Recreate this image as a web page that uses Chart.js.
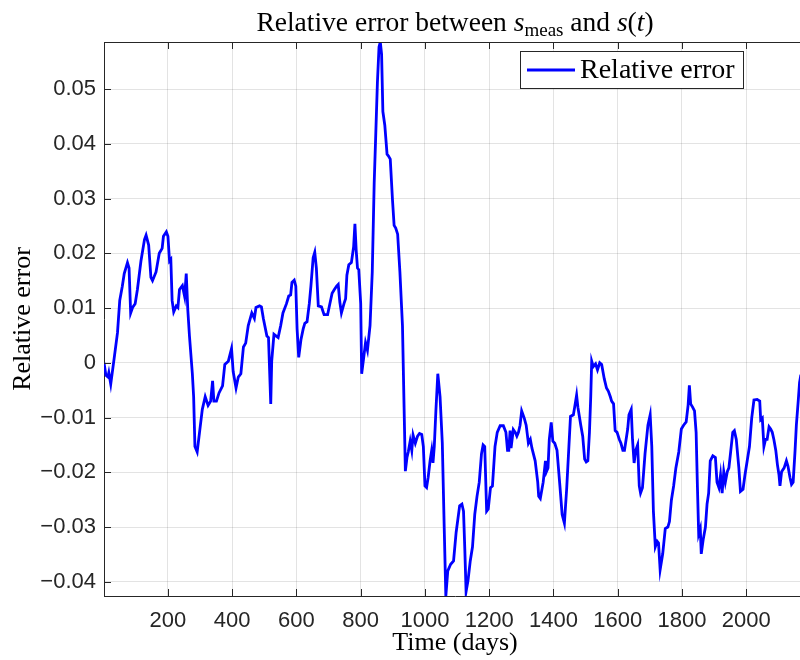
<!DOCTYPE html>
<html>
<head>
<meta charset="utf-8">
<script src="https://cdn.jsdelivr.net/npm/chart.js@4.4.1/dist/chart.umd.min.js"></script>
<style>
html, body { margin: 0; padding: 0; overflow: hidden; background: #fff; }
#wrap { width: 806px; height: 660px; }
</style>
</head>
<body>
<div id="wrap"><canvas id="errCanvas" width="806" height="660"></canvas></div>
<script>
// time axis (days) and relative error
const days = [
    1, 7, 13, 16, 22, 33, 43, 50, 58, 64, 74, 79, 84, 90, 98, 105, 116, 127, 132, 140,
    147, 152, 163, 173, 182, 186, 195, 200, 205, 209, 213, 218, 226, 231, 236, 245, 252, 257, 262, 267,
    276, 280, 284, 291, 299, 307, 316, 325, 333, 339, 343, 351, 359, 370, 377, 388, 398, 403, 412, 419,
    427, 435, 442, 450, 461, 469, 474, 485, 491, 497, 508, 513, 520, 523, 530, 543, 551, 558, 569, 576,
    582, 586, 593, 598, 602, 607, 614, 621, 626, 633, 640, 645, 652, 657, 662, 668, 678, 686, 697, 704,
    711, 718, 725, 730, 735, 740, 748, 753, 757, 763, 771, 778, 782, 786, 790, 794, 800, 803, 808, 815,
    821, 829, 836, 842, 847, 852, 857, 861, 865, 869, 875, 882, 886, 892, 899, 904, 909, 915, 922, 930,
    935, 939, 944, 948, 954, 959, 963, 970, 977, 983, 990, 995, 1000, 1005, 1010, 1016, 1021, 1025, 1029, 1034,
    1040, 1047, 1054, 1060, 1065, 1071, 1080, 1089, 1097, 1108, 1115, 1120, 1124, 1128, 1134, 1141, 1148, 1155, 1162, 1169,
    1176, 1181, 1186, 1192, 1197, 1204, 1210, 1218, 1225, 1234, 1244, 1252, 1257, 1261, 1265, 1268, 1275, 1281, 1286, 1291,
    1296, 1301, 1309, 1315, 1322, 1328, 1333, 1343, 1351, 1354, 1359, 1368, 1375, 1378, 1383, 1387, 1393, 1398, 1404, 1411,
    1420, 1427, 1434, 1441, 1448, 1453, 1462, 1466, 1472, 1476, 1485, 1491, 1497, 1502, 1507, 1512, 1516, 1519, 1524, 1531,
    1537, 1544, 1550, 1558, 1565, 1571, 1577, 1581, 1587, 1592, 1598, 1605, 1610, 1616, 1621, 1631, 1635, 1642, 1646, 1651,
    1656, 1662, 1667, 1671, 1677, 1685, 1694, 1701, 1706, 1711, 1717, 1723, 1727, 1732, 1740, 1748, 1756, 1761, 1767, 1774,
    1781, 1790, 1798, 1805, 1813, 1819, 1823, 1827, 1833, 1839, 1844, 1848, 1852, 1857, 1860, 1866, 1873, 1878, 1883, 1888,
    1896, 1904, 1909, 1915, 1920, 1925, 1930, 1935, 1941, 1946, 1952, 1958, 1963, 1969, 1977, 1982, 1990, 1996, 2003, 2010,
    2017, 2024, 2034, 2042, 2045, 2050, 2055, 2060, 2065, 2071, 2076, 2081, 2086, 2092, 2097, 2102, 2105, 2110, 2118, 2125,
    2130, 2136, 2141, 2146, 2152, 2156, 2162, 2166, 2170
];

const relativeError = [
    0, -0.0023, -0.0026, -0.0018, -0.0039, 0.001, 0.0055, 0.0114, 0.014, 0.0163, 0.0183, 0.0173, 0.0091, 0.0101, 0.0108, 0.0134, 0.0186, 0.0225, 0.0233, 0.0215,
    0.0156, 0.015, 0.0166, 0.02, 0.0209, 0.0231, 0.0239, 0.0231, 0.0186, 0.0189, 0.0114, 0.0093, 0.0104, 0.0101, 0.0134, 0.0141, 0.0121, 0.0163, 0.0095, 0.0049,
    -0.002, -0.0062, -0.0153, -0.0163, -0.0124, -0.0085, -0.0062, -0.0078, -0.007, -0.0033, -0.007, -0.007, -0.0055, -0.0042, -0.0003, 0.0003, 0.0026, -0.0016, -0.0046, -0.0026,
    -0.002, 0.0029, 0.0036, 0.0068, 0.0091, 0.0081, 0.0101, 0.0104, 0.0102, 0.0081, 0.0049, 0.0046, -0.0075, 0.0003, 0.0052, 0.0046, 0.0068, 0.0091, 0.0108, 0.0122,
    0.0124, 0.0147, 0.0151, 0.014, 0.0062, 0.001, 0.0042, 0.0062, 0.0072, 0.0075, 0.0108, 0.014, 0.0192, 0.0202, 0.0173, 0.0104, 0.0102, 0.0088, 0.0088, 0.0108,
    0.0127, 0.0134, 0.014, 0.0143, 0.0111, 0.0091, 0.0108, 0.0117, 0.016, 0.0179, 0.0183, 0.0212, 0.0254, 0.0205, 0.0173, 0.017, 0.0108, -0.002, 0.0003, 0.0037,
    0.0023, 0.0068, 0.0166, 0.0329, 0.042, 0.0512, 0.0577, 0.0586, 0.0564, 0.0459, 0.0434, 0.0381, 0.0378, 0.0372, 0.0297, 0.0251, 0.0246, 0.0235, 0.0166, 0.0068,
    -0.0081, -0.0198, -0.0173, -0.0163, -0.0143, -0.016, -0.0132, -0.0147, -0.0134, -0.0129, -0.0131, -0.0153, -0.0225, -0.0228, -0.0209, -0.0179, -0.016, -0.0183, -0.0153, -0.0088,
    -0.002, -0.0062, -0.0147, -0.0303, -0.0426, -0.038, -0.0368, -0.0362, -0.031, -0.0261, -0.0258, -0.0271, -0.034, -0.0418, -0.0398, -0.0362, -0.0336, -0.0277, -0.0244, -0.0218,
    -0.0166, -0.015, -0.0153, -0.0271, -0.0267, -0.0228, -0.0225, -0.0153, -0.0127, -0.0115, -0.0115, -0.0127, -0.016, -0.016, -0.0124, -0.0156, -0.0122, -0.0127, -0.0134, -0.0127,
    -0.0114, -0.0088, -0.0101, -0.0114, -0.0147, -0.014, -0.0156, -0.0179, -0.0218, -0.0244, -0.0248, -0.0218, -0.0179, -0.0199, -0.0192, -0.014, -0.0109, -0.0143, -0.0147, -0.016,
    -0.0225, -0.0277, -0.0293, -0.0231, -0.0153, -0.0098, -0.0095, -0.0081, -0.0059, -0.0081, -0.0114, -0.0134, -0.0176, -0.0181, -0.0179, -0.0127, -0.0062, 0.0003, -0.0007, -0.0002,
    -0.0013, 0, -0.0003, -0.0029, -0.0046, -0.0052, -0.0062, -0.007, -0.0075, -0.0124, -0.0127, -0.014, -0.0147, -0.016, -0.016, -0.0121, -0.0095, -0.0085, -0.014, -0.0183,
    -0.016, -0.015, -0.0225, -0.0238, -0.0228, -0.0166, -0.0114, -0.0095, -0.0153, -0.0271, -0.0336, -0.0326, -0.0329, -0.0378, -0.0349, -0.0303, -0.03, -0.029, -0.0251, -0.0225,
    -0.0192, -0.0163, -0.0121, -0.0114, -0.0108, -0.0078, -0.0041, -0.0075, -0.0081, -0.0088, -0.0127, -0.0225, -0.0313, -0.0303, -0.0349, -0.0323, -0.03, -0.0258, -0.0238, -0.0179,
    -0.017, -0.0173, -0.0218, -0.0228, -0.0205, -0.0238, -0.0199, -0.0218, -0.0199, -0.0192, -0.016, -0.0127, -0.0124, -0.014, -0.0192, -0.0235, -0.0231, -0.0205, -0.0179, -0.0153,
    -0.0101, -0.0068, -0.0067, -0.007, -0.0104, -0.0101, -0.0153, -0.014, -0.014, -0.0117, -0.0121, -0.0127, -0.014, -0.016, -0.0186, -0.0205, -0.0225, -0.0199, -0.0192, -0.0179,
    -0.0189, -0.0209, -0.0222, -0.0218, -0.016, -0.0114, -0.0068, -0.0036, -0.0022
];

const xTicks = [200, 400, 600, 800, 1000, 1200, 1400, 1600, 1800, 2000];
const yTicks = [-0.04, -0.03, -0.02, -0.01, 0, 0.01, 0.02, 0.03, 0.04, 0.05];

const axisColor = '#262626';
const gridColor = 'rgba(38,38,38,0.13)';
const serif = '"Liberation Serif", "Times New Roman", serif';
const sans = '"Liberation Sans", Arial, Helvetica, sans-serif';

let points = days.map((d, i) => ({ x: d, y: relativeError[i] }));

// matlab style frame: top border, inward ticks, boxed legend and latex like title
const matlabFrame = {
    id: 'matlabFrame',
    afterDraw(chart) {
        const ctx = chart.ctx;
        const area = chart.chartArea;
        const xs = chart.scales.x;
        const ys = chart.scales.y;

        ctx.save();
        ctx.strokeStyle = axisColor;
        ctx.lineWidth = 1;
        ctx.beginPath();
        ctx.moveTo(area.left, area.top + 0.5);
        ctx.lineTo(area.right, area.top + 0.5);
        xTicks.forEach(v => {
            let px = Math.round(xs.getPixelForValue(v)) + 0.5;
            ctx.moveTo(px, area.bottom);
            ctx.lineTo(px, area.bottom - 7);
            ctx.moveTo(px, area.top);
            ctx.lineTo(px, area.top + 7);
        });
        yTicks.forEach(v => {
            let py = Math.round(ys.getPixelForValue(v)) + 0.5;
            ctx.moveTo(area.left, py);
            ctx.lineTo(area.left + 7, py);
        });
        ctx.stroke();

        // legend
        const lx = 520, ly = 51, lw = 223, lh = 37;
        ctx.fillStyle = '#ffffff';
        ctx.fillRect(lx, ly, lw, lh);
        ctx.strokeStyle = axisColor;
        ctx.strokeRect(lx + 0.5, ly + 0.5, lw, lh);
        ctx.strokeStyle = chart.data.datasets[0].borderColor;
        ctx.lineWidth = 2.8;
        ctx.beginPath();
        ctx.moveTo(lx + 7, ly + lh / 2 + 0.5);
        ctx.lineTo(lx + 55, ly + lh / 2 + 0.5);
        ctx.stroke();
        ctx.fillStyle = '#000000';
        ctx.font = '28px ' + serif;
        ctx.textBaseline = 'alphabetic';
        ctx.textAlign = 'left';
        ctx.fillText(chart.data.datasets[0].label, lx + 60, ly + 27);

        // title
        const big = 27.5;
        const parts = [
            { t: 'Relative error between ', f: big + 'px ' + serif, dy: 0 },
            { t: 's', f: 'italic ' + big + 'px ' + serif, dy: 0 },
            { t: 'meas', f: '19px ' + serif, dy: 5 },
            { t: ' and ', f: big + 'px ' + serif, dy: 0 },
            { t: 's', f: 'italic ' + big + 'px ' + serif, dy: 0 },
            { t: '(', f: big + 'px ' + serif, dy: 0 },
            { t: 't', f: 'italic ' + big + 'px ' + serif, dy: 0 },
            { t: ')', f: big + 'px ' + serif, dy: 0 }
        ];
        let total = 0;
        parts.forEach(p => { ctx.font = p.f; p.w = ctx.measureText(p.t).width; total += p.w; });
        let tx = (area.left + area.right) / 2 - total / 2;
        parts.forEach(p => {
            ctx.font = p.f;
            ctx.fillText(p.t, tx, 31 + p.dy);
            tx += p.w;
        });
        ctx.restore();
    }
};

let ctx1 = document.querySelector('#errCanvas');

let graph1 = new Chart(ctx1, {
    type: 'line',
    data: {
        datasets: [{
            label: 'Relative error',
            data: points,
            borderColor: '#0000ff',
            borderWidth: 2.8,
            pointRadius: 0,
            tension: 0,
            fill: false
        }]
    },
    options: {
        responsive: false,
        animation: false,
        devicePixelRatio: 1,
        parsing: false,
        layout: {
            padding: { top: 42, right: 0, bottom: 0, left: 0 }
        },
        plugins: {
            legend: { display: false },
            title: { display: false },
            tooltip: { enabled: false }
        },
        scales: {
            x: {
                type: 'linear',
                min: 1,
                max: 2186,
                afterBuildTicks: s => { s.ticks = xTicks.map(v => ({ value: v })); },
                afterFit: s => { s.height = 64; },
                grid: { color: gridColor, drawTicks: false },
                border: { color: axisColor, width: 1 },
                ticks: {
                    color: axisColor,
                    font: { family: sans, size: 22 },
                    padding: 12,
                    maxRotation: 0,
                    callback: v => String(v)
                },
                title: {
                    display: true,
                    text: 'Time (days)',
                    color: '#000000',
                    font: { family: serif, size: 26 },
                    padding: { top: 0, bottom: 1 }
                }
            },
            y: {
                min: -0.0426,
                max: 0.0586,
                afterBuildTicks: s => { s.ticks = yTicks.map(v => ({ value: v })); },
                afterFit: s => { s.width = 104; },
                grid: { color: gridColor, drawTicks: false },
                border: { color: axisColor, width: 1 },
                ticks: {
                    color: axisColor,
                    font: { family: sans, size: 22 },
                    padding: 8,
                    callback: v => {
                        let n = Number(v.toFixed(2));
                        return n < 0 ? '\u2212' + String(-n) : String(n);
                    }
                },
                title: {
                    display: true,
                    text: 'Relative error',
                    color: '#000000',
                    font: { family: serif, size: 26 },
                    padding: { top: 8, bottom: 0 }
                }
            }
        }
    },
    plugins: [matlabFrame]
});
</script>
</body>
</html>
